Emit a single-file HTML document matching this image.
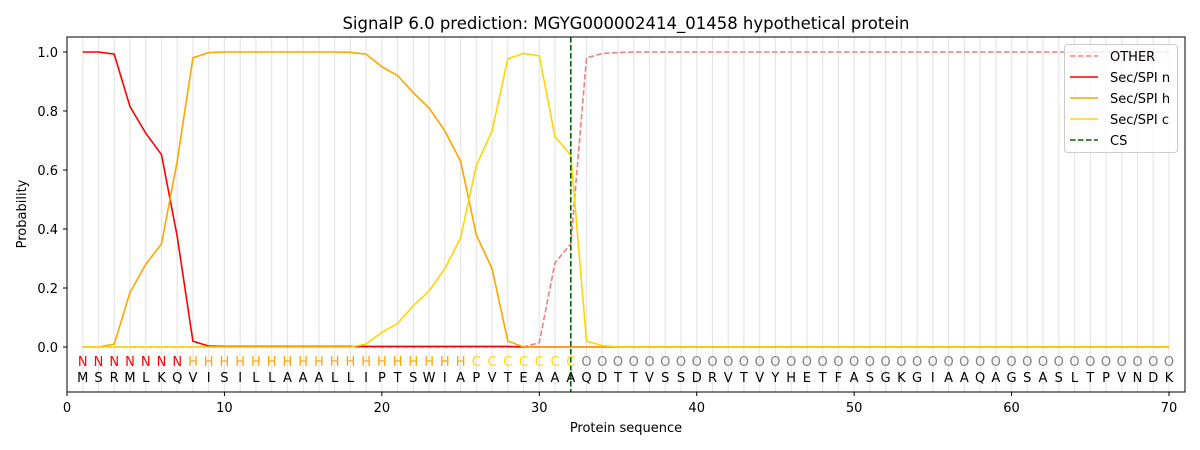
<!DOCTYPE html>
<html><head><meta charset="utf-8"><style>
body{margin:0;background:#fff}
svg{display:block;font-family:"DejaVu Sans","Liberation Sans",sans-serif}
</style></head><body>
<svg id="s" width="1200" height="450" viewBox="0 0 1200 450">
<rect width="1200" height="450" fill="#fff"/>
<g id="grid"></g>
<g id="lines" fill="none" stroke-width="1.6"></g>
<line x1="570.8" y1="37" x2="570.8" y2="392" stroke="#006400" stroke-width="1.6" stroke-dasharray="5.5,2.5"/>
<rect x="67" y="37" width="1118" height="355" fill="none" stroke="#000" stroke-width="1"/>
<text x="626" y="29" font-size="16.5" text-anchor="middle">SignalP 6.0 prediction: MGYG000002414_01458 hypothetical protein</text>
<g font-size="13" text-anchor="middle">
<text y="366" fill="#ff0000" x="82.7 98.5 114.2 130.0 145.7 161.5 177.2">NNNNNNN</text>
<text y="366" fill="#ffa500" x="193.0 208.7 224.4 240.2 255.9 271.7 287.4 303.1 318.9 334.6 350.4 366.1 381.9 397.6 413.3 429.1 444.8 460.6">HHHHHHHHHHHHHHHHHH</text>
<text y="366" fill="#ffd700" x="476.3 492.1 507.8 523.5 539.3 555.0 570.8">CCCCCCC</text>
<text y="366" fill="#808080" x="586.5 602.3 618.0 633.7 649.5 665.2 681.0 696.7 712.5 728.2 743.9 759.7 775.4 791.2 806.9 822.6 838.4 854.1 869.9 885.6 901.4 917.1 932.8 948.6 964.3 980.1 995.8 1011.5 1027.3 1043.0 1058.8 1074.5 1090.3 1106.0 1121.7 1137.5 1153.2 1169.0">OOOOOOOOOOOOOOOOOOOOOOOOOOOOOOOOOOOOOO</text>
<text y="382" fill="#000" x="82.7 98.5 114.2 130.0 145.7 161.5 177.2 193.0 208.7 224.4 240.2 255.9 271.7 287.4 303.1 318.9 334.6 350.4 366.1 381.9 397.6 413.3 429.1 444.8 460.6 476.3 492.1 507.8 523.5 539.3 555.0 570.8 586.5 602.3 618.0 633.7 649.5 665.2 681.0 696.7 712.5 728.2 743.9 759.7 775.4 791.2 806.9 822.6 838.4 854.1 869.9 885.6 901.4 917.1 932.8 948.6 964.3 980.1 995.8 1011.5 1027.3 1043.0 1058.8 1074.5 1090.3 1106.0 1121.7 1137.5 1153.2 1169.0">MSRMLKQVISILLAAALLIPTSWIAPVTEAAAQDTTVSSDRVTVYHETFASGKGIAAQAGSASLTPVNDK</text>
<g font-size="13">
<text x="67" y="412">0</text><text x="224.4" y="412">10</text><text x="381.9" y="412">20</text><text x="539.3" y="412">30</text><text x="696.7" y="412">40</text><text x="854.1" y="412">50</text><text x="1011.5" y="412">60</text><text x="1169" y="412">70</text>
<text x="626" y="432">Protein sequence</text>
</g>
</g>
<g font-size="13" text-anchor="end">
<text x="58" y="352">0.0</text><text x="58" y="293">0.2</text><text x="58" y="234">0.4</text><text x="58" y="175">0.6</text><text x="58" y="116">0.8</text><text x="58" y="57">1.0</text>
</g>
<text font-size="13" text-anchor="middle" transform="translate(26,214) rotate(-90)">Probability</text>
<g id="ticks" stroke="#000"></g>
<g>
<rect x="1064.5" y="44.5" width="113" height="108" rx="3" fill="#fff" fill-opacity="0.8" stroke="#ccc"/>
<line x1="1070" y1="56" x2="1098" y2="56" stroke="#f08080" stroke-width="1.6" stroke-dasharray="5.5,2.5"/>
<line x1="1070" y1="77" x2="1098" y2="77" stroke="#ff0000" stroke-width="1.6"/>
<line x1="1070" y1="98" x2="1098" y2="98" stroke="#ffa500" stroke-width="1.6"/>
<line x1="1070" y1="119" x2="1098" y2="119" stroke="#ffd700" stroke-width="1.6"/>
<line x1="1070" y1="140" x2="1098" y2="140" stroke="#006400" stroke-width="1.6" stroke-dasharray="5.5,2.5"/>
<g font-size="13"><text x="1110" y="61">OTHER</text><text x="1110" y="82">Sec/SPI n</text><text x="1110" y="103">Sec/SPI h</text><text x="1110" y="124">Sec/SPI c</text><text x="1110" y="145">CS</text></g>
</g>
</svg>
<script>
var X=i=>67+15.743*i, Y=v=>347-295*v, NS="http://www.w3.org/2000/svg";
var g=document.getElementById('grid');
for(var i=1;i<=70;i++){var l=document.createElementNS(NS,'line');l.setAttribute('x1',X(i));l.setAttribute('x2',X(i));l.setAttribute('y1',37);l.setAttribute('y2',392);l.setAttribute('stroke','#e6e6e6');l.setAttribute('stroke-width','1.2');g.appendChild(l);}
var t=document.getElementById('ticks');
[0,10,20,30,40,50,60,70].forEach(v=>{var l=document.createElementNS(NS,'line');l.setAttribute('x1',X(v));l.setAttribute('x2',X(v));l.setAttribute('y1',392);l.setAttribute('y2',396);t.appendChild(l);});
[0,.2,.4,.6,.8,1].forEach(v=>{var l=document.createElementNS(NS,'line');l.setAttribute('x1',63);l.setAttribute('x2',67);l.setAttribute('y1',Y(v));l.setAttribute('y2',Y(v));t.appendChild(l);});
function fill(obj){var a=[];for(var i=1;i<=70;i++){a.push(obj[i]!==undefined?obj[i]:obj.d(i));}return a;}
var other=fill({30:.015,31:.285,32:.35,33:.98,34:.995,35:.998,d:i=>i<30?0:1});
var n=fill({1:1,2:1,3:.993,4:.815,5:.725,6:.652,7:.375,8:.02,9:.003,d:i=>i<29?.002:0});
var h=fill({3:.01,4:.185,5:.28,6:.35,7:.63,8:.98,9:.998,18:.999,19:.993,20:.95,21:.92,22:.862,23:.81,24:.733,25:.63,26:.38,27:.265,28:.02,d:i=>(i>9&&i<18)?1:0});
var c=fill({19:.01,20:.05,21:.08,22:.14,23:.19,24:.265,25:.37,26:.615,27:.733,28:.977,29:.995,30:.987,31:.713,32:.65,33:.02,34:.005,d:i=>0});
var L=document.getElementById('lines');
function pl(d,col,dash){var p=document.createElementNS(NS,'polyline');p.setAttribute('points',d.map((v,k)=>X(k+1).toFixed(1)+','+Y(v).toFixed(1)).join(' '));p.setAttribute('stroke',col);if(dash)p.setAttribute('stroke-dasharray',dash);L.appendChild(p);}
pl(other,'#f08080','5.5,2.5');pl(n,'#ff0000');pl(h,'#ffa500');pl(c,'#ffd700');
</script>
</body></html>
